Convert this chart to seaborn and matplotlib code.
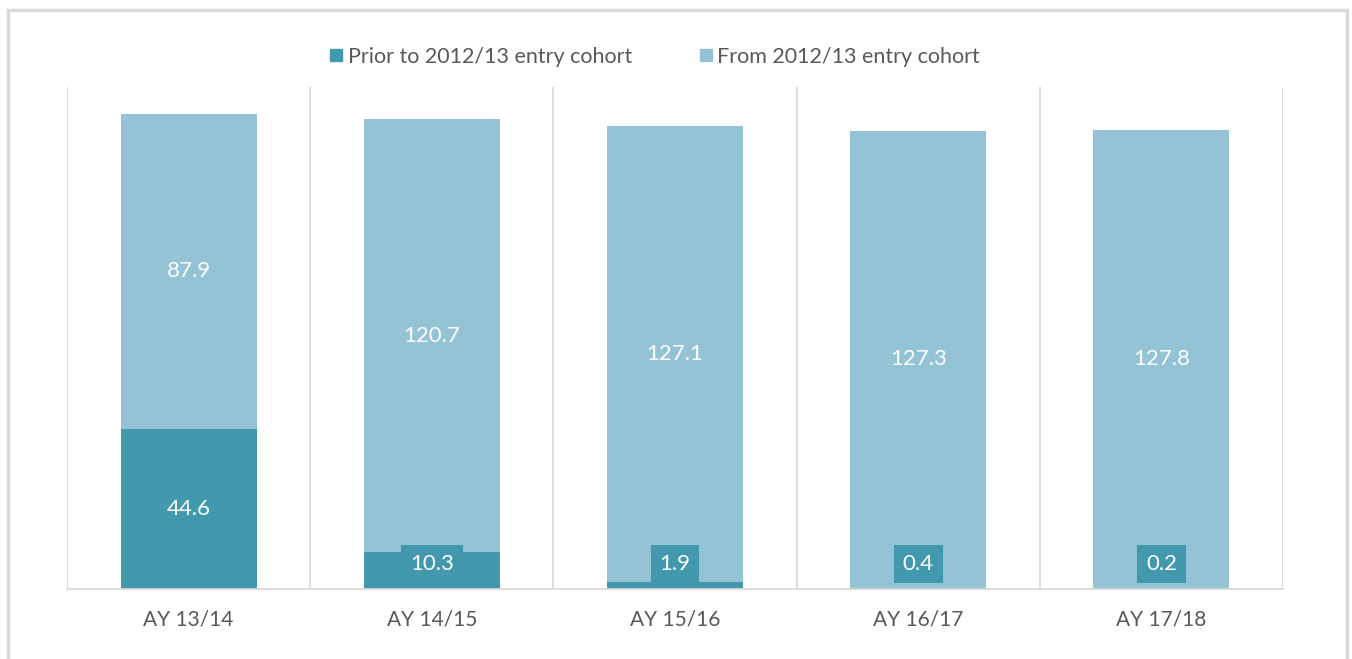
import matplotlib
matplotlib.use("Agg")
import matplotlib.pyplot as plt
from matplotlib.lines import Line2D
from matplotlib.patches import Rectangle
import seaborn as sns
import pandas as pd
import numpy as np

categories = ["AY 13/14", "AY 14/15", "AY 15/16", "AY 16/17", "AY 17/18"]
prior_vals = [44.6, 10.3, 1.9, 0.4, 0.2]
from_vals = [87.9, 120.7, 127.1, 127.3, 127.8]
series_names = ["Prior to 2012/13 entry cohort", "From 2012/13 entry cohort"]

dark = "#4299AE"
light = "#93C3D5"
grid_c = "#D9D9D9"
text_c = "#595959"

sns.set_theme(style="white")
plt.rcParams["font.family"] = ["Lato", "DejaVu Sans"]

df = pd.DataFrame({"cat": categories, "prior": prior_vals, "from": from_vals})
df["total"] = df["prior"] + df["from"]

fig = plt.figure(figsize=(13.52, 6.59), dpi=100)
ax = fig.add_axes([67/1352, 1-589/659, (1283-67)/1352, (589-87)/659])

sns.barplot(data=df, x="cat", y="total", color=light, width=0.56, ax=ax,
            saturation=1, linewidth=0, zorder=2)
sns.barplot(data=df, x="cat", y="prior", color=dark, width=0.56, ax=ax,
            saturation=1, linewidth=0, zorder=3)

ax.set_ylim(0, 140)
ax.set_xlim(-0.5, len(categories) - 0.5)
ax.set_xlabel("")
ax.set_ylabel("")
ax.set_yticks([])
for s in ["top", "left", "right"]:
    ax.spines[s].set_visible(False)
ax.spines["bottom"].set_color(grid_c)
ax.spines["bottom"].set_linewidth(1.3)
ax.spines["bottom"].set_zorder(5)

for xb in np.arange(-0.5, len(categories), 1.0):
    ax.axvline(xb, color=grid_c, lw=1.3, zorder=1)

ax.tick_params(axis="x", length=0, pad=15, labelsize=15, labelcolor=text_c)

for i, (p, f) in enumerate(zip(prior_vals, from_vals)):
    ax.text(i, p + f / 2, f"{f}", ha="center", va="center", color="white",
            fontsize=16, zorder=6)
    ypos = max(p / 2, 7.0)
    ax.text(i, ypos, f"{p}", ha="center", va="center", color="white",
            fontsize=16, zorder=6,
            bbox=dict(boxstyle="square,pad=0.4", facecolor=dark,
                      edgecolor="none"))

handles = [Line2D([], [], marker="s", linestyle="none", markersize=9,
                  markerfacecolor=c, markeredgecolor=c) for c in (dark, light)]
fig.legend(handles, series_names, loc="center", bbox_to_anchor=(654/1352, 1-57/659),
           ncol=2, frameon=False, fontsize=15.5, labelcolor=text_c,
           handletextpad=0.15, columnspacing=3.0, handlelength=0.8)

fig.add_artist(Rectangle((8/1352, -0.02), (1347-8)/1352, 1-10/659+0.02,
                         transform=fig.transFigure, fill=False,
                         edgecolor=grid_c, linewidth=2.5))

fig.savefig("out.png", dpi=100)
